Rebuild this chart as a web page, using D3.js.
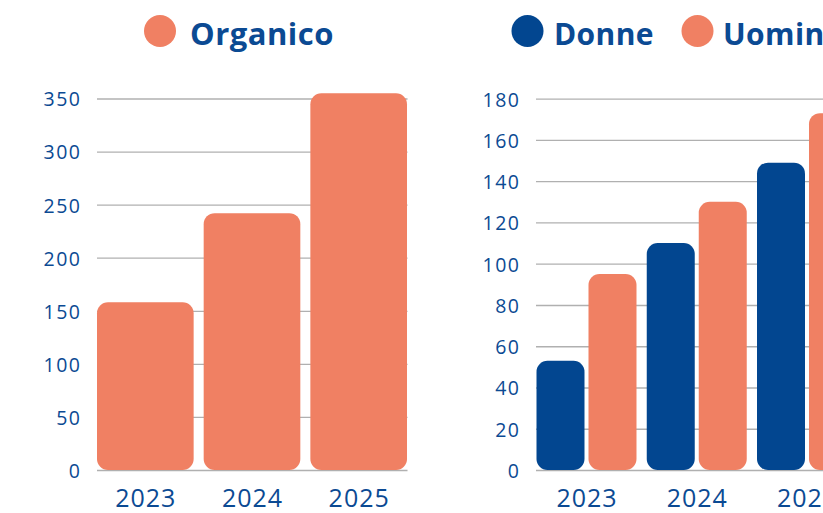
<!DOCTYPE html>
<html>
<head>
<meta charset="utf-8">
<script src="https://cdn.jsdelivr.net/npm/d3@7"></script>
<style>
  html, body { margin: 0; padding: 0; background: #fff; overflow: hidden; }
  svg { display: block; font-family: "Open Sans", sans-serif; }
</style>
</head>
<body>
<svg id="chart" width="823" height="513"></svg>
<script>
const years = ["2023", "2024", "2025"];
const organico = [158, 242, 355];
const seriesNames = ["Donne", "Uomini"];
const donne = [53, 110, 149];
const uomini = [95, 130, 173];
const leftTicks = [0, 50, 100, 150, 200, 250, 300, 350];
const rightTicks = [0, 20, 40, 60, 80, 100, 120, 140, 160, 180];

const ORANGE = "#F08063";
const BLUE = "#024690";
const TEXT = "#0B4A93";
const GRID = "#b0b0b0";

const svg = d3.select("#chart");

function drawGrid(g, y, ticks, x0, x1) {
  const axis = d3.axisLeft(y)
    .tickValues(ticks)
    .tickSize(-(x1 - x0))
    .tickPadding(15.5)
    .tickFormat(d3.format("d"));
  const ag = g.append("g").attr("transform", `translate(${x0},0)`).call(axis);
  ag.select(".domain").remove();
  ag.selectAll(".tick line").attr("stroke", GRID).attr("stroke-width", 1.3);
  ag.selectAll(".tick text")
    .attr("fill", TEXT)
    .attr("font-size", 19.5)
    .attr("dy", "0.38em")
    .style("letter-spacing", "1.5px")
    .style("font-family", "'Open Sans', sans-serif");
}

function drawXLabels(g, x) {
  const axis = d3.axisBottom(x).tickSize(0).tickPadding(0);
  const ag = g.append("g").attr("transform", "translate(0,507)").call(axis);
  ag.select(".domain").remove();
  ag.selectAll(".tick text")
    .attr("fill", TEXT)
    .attr("font-size", 25)
    .attr("y", 0)
    .attr("dy", 0)
    .attr("dx", "0.5px")
    .style("letter-spacing", "1px")
    .style("font-family", "'Open Sans', sans-serif");
}

// ---------- Left chart ----------
const gL = svg.append("g");
const xL = d3.scaleBand().domain(years).range([97, 407]).paddingInner(0.094).paddingOuter(0);
const yL = d3.scaleLinear().domain([0, 350]).range([470, 98.5]);
drawGrid(gL, yL, leftTicks, 97, 407.5);

gL.selectAll("rect.bar")
  .data(years.map((y, i) => ({ year: y, v: organico[i] })))
  .join("rect")
  .attr("class", "bar")
  .attr("x", d => xL(d.year))
  .attr("width", xL.bandwidth())
  .attr("y", d => yL(d.v))
  .attr("height", d => yL(0) - yL(d.v))
  .attr("rx", 11).attr("ry", 11)
  .attr("fill", ORANGE);

drawXLabels(gL, xL);

// legend left
const legL = svg.append("g");
legL.append("circle").attr("cx", 160).attr("cy", 31).attr("r", 16).attr("fill", ORANGE);
legL.append("text").attr("x", 190).attr("y", 45).text("Organico")
  .attr("fill", TEXT).attr("font-size", 31).attr("font-weight", 700)
  .style("letter-spacing", "0.5px");

// ---------- Right chart ----------
const gR = svg.append("g");
const x0 = d3.scaleBand().domain(years).range([536.5, 857]).paddingInner(0.093).paddingOuter(0);
const x1 = d3.scaleBand().domain(seriesNames).range([0, x0.bandwidth()]).paddingInner(0.077);
const yR = d3.scaleLinear().domain([0, 180]).range([470, 98.7]);
drawGrid(gR, yR, rightTicks, 536, 860);

const seriesVals = { Donne: donne, Uomini: uomini };
const colors = { Donne: BLUE, Uomini: ORANGE };

const groups = gR.selectAll("g.grp")
  .data(years.map((y, i) => ({ year: y, i })))
  .join("g")
  .attr("class", "grp")
  .attr("transform", d => `translate(${x0(d.year)},0)`);

groups.selectAll("rect")
  .data(d => seriesNames.map(s => ({ s, v: seriesVals[s][d.i] })))
  .join("rect")
  .attr("x", d => x1(d.s))
  .attr("width", x1.bandwidth())
  .attr("y", d => yR(d.v))
  .attr("height", d => yR(0) - yR(d.v))
  .attr("rx", 11).attr("ry", 11)
  .attr("fill", d => colors[d.s]);

drawXLabels(gR, x0);

// legend right
const legR = svg.append("g");
const legItems = [
  { name: "Donne", cx: 527.5, tx: 554 },
  { name: "Uomini", cx: 697.5, tx: 723 }
];
legItems.forEach(it => {
  legR.append("circle").attr("cx", it.cx).attr("cy", 31).attr("r", 16).attr("fill", colors[it.name]);
  legR.append("text").attr("x", it.tx).attr("y", 45).text(it.name)
    .attr("fill", TEXT).attr("font-size", 30).attr("font-weight", 700)
    .style("letter-spacing", "0.4px");
});
</script>
</body>
</html>
